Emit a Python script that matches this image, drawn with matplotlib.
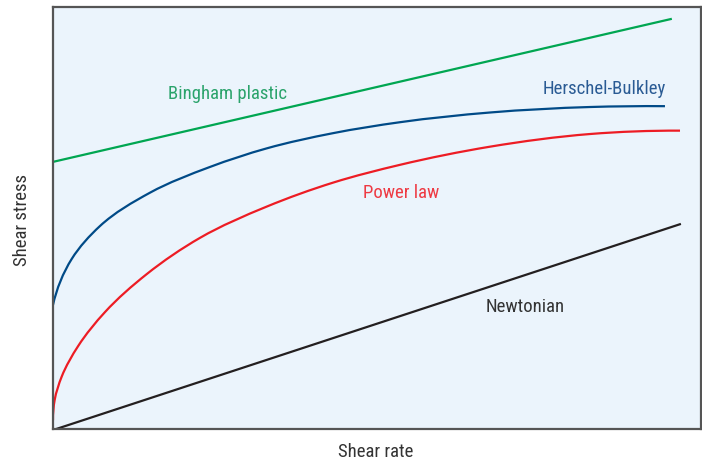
import matplotlib
matplotlib.use("Agg")
import numpy as np
import matplotlib.pyplot as plt
from matplotlib.path import Path
from matplotlib.patches import PathPatch

# values, both axes scaled 0-100
newton_x = [0.5, 96.9]
newton_y = [0.0, 48.6]

bingham_x = [0.0, 95.5]
bingham_y = [63.3, 97.2]

hb_x = [0.0, 2.89, 7.25, 14.97, 24.23, 32.98, 43.21, 53.55, 67.44, 82.87, 94.44]
hb_y = [29.4, 40.3, 48.1, 56.0, 62.1, 66.5, 70.1, 72.7, 75.0, 76.3, 76.5]

power_x = [0.0, 0.26, 1.34, 3.9, 8.02, 14.46, 22.69, 32.98, 43.26, 53.55, 67.44, 82.87, 96.76]
power_y = [2.1, 6.9, 12.4, 19.7, 27.7, 36.7, 45.3, 52.7, 58.4, 62.6, 66.9, 69.9, 70.7]

plt.rcParams['font.family'] = ['Roboto Condensed', 'Roboto', 'DejaVu Sans']


def unit(v):
    return v / np.hypot(*v)


def smooth_path(xs, ys, sx=6.48, sy=4.22):
    # bezier through the read points, Bessel tangents in pixel space
    p = np.column_stack([np.asarray(xs) * sx, np.asarray(ys) * sy])
    n = len(p)
    tang = np.zeros_like(p)
    for i in range(1, n - 1):
        h0 = np.hypot(*(p[i] - p[i - 1]))
        h1 = np.hypot(*(p[i + 1] - p[i]))
        s0 = unit(p[i] - p[i - 1])
        s1 = unit(p[i + 1] - p[i])
        tang[i] = unit(h1 * s0 + h0 * s1)
    tang[0] = unit(2 * unit(p[1] - p[0]) - tang[1])
    tang[-1] = unit(2 * unit(p[-1] - p[-2]) - tang[-2])
    verts = [p[0]]
    codes = [Path.MOVETO]
    for i in range(n - 1):
        seg = np.hypot(*(p[i + 1] - p[i]))
        verts += [p[i] + tang[i] * seg / 3, p[i + 1] - tang[i + 1] * seg / 3, p[i + 1]]
        codes += [Path.CURVE4] * 3
    verts = np.array(verts) / [sx, sy]
    return Path(verts, codes)


fig = plt.figure(figsize=(7.02, 4.63), dpi=100)
ax = fig.add_axes([53 / 702, 34 / 463, 648 / 702, 422 / 463])
ax.set_facecolor('#ebf4fc')

ax.plot(newton_x, newton_y, color='#231f20', lw=1.6, solid_capstyle='butt')
ax.plot(bingham_x, bingham_y, color='#00a651', lw=1.6, solid_capstyle='butt')
ax.add_patch(PathPatch(smooth_path(hb_x, hb_y), fill=False, edgecolor='#004a87', lw=1.6, capstyle='butt'))
ax.add_patch(PathPatch(smooth_path(power_x, power_y), fill=False, edgecolor='#ed1c24', lw=1.6, capstyle='butt'))

fs = 13.5
ax.text(27.0, 79.4, 'Bingham plastic', color='#2aa36b', fontsize=fs, ha='center', va='center')
ax.text(85.0, 80.6, 'Herschel-Bulkley', color='#2a5b94', fontsize=fs, ha='center', va='center')
ax.text(53.7, 55.9, 'Power law', color='#ee3a43', fontsize=fs, ha='center', va='center')
ax.text(72.8, 28.9, 'Newtonian', color='#333333', fontsize=fs, ha='center', va='center')

ax.set_xlim(0, 100)
ax.set_ylim(0, 100)
ax.set_xticks([])
ax.set_yticks([])
for s in ax.spines.values():
    s.set_color('#555555')
    s.set_linewidth(1.6)

fig.text(376 / 702, 1 - 452 / 463, 'Shear rate', color='#333333', fontsize=fs, ha='center', va='center')
fig.text(22 / 702, 1 - 220 / 463, 'Shear stress', color='#333333', fontsize=fs, ha='center', va='center',
         rotation=90)

fig.savefig('out.png', dpi=100)
